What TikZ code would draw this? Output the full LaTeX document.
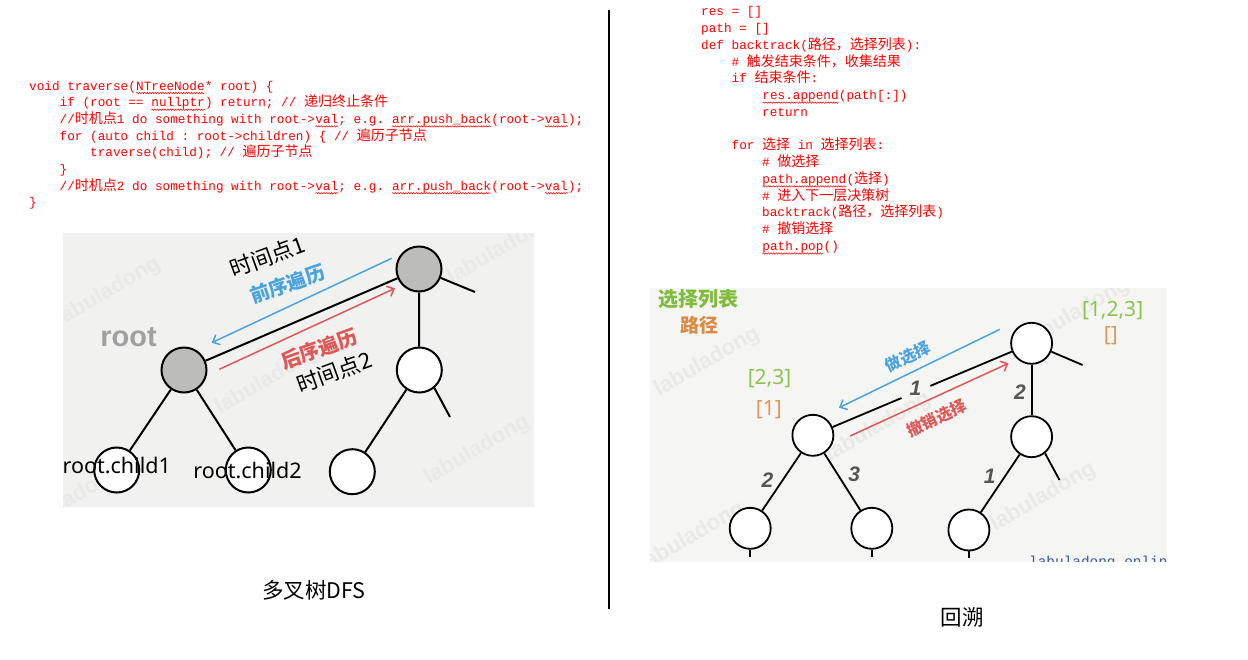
\documentclass[tikz,border=0pt]{standalone}
\usepackage{fontspec}
\setmainfont{Noto Sans}
\newfontfamily\cjk{Noto Sans CJK SC}
\newfontfamily\mono{Liberation Mono}
\newfontfamily\lsans{Liberation Sans}
\usetikzlibrary{arrows.meta,calc,decorations.pathmorphing}
\definecolor{codered}{RGB}{255,0,0}
\definecolor{ablue}{RGB}{74,163,223}
\definecolor{ared}{RGB}{222,88,88}
\definecolor{lgreen}{RGB}{139,196,74}
\definecolor{lorange}{RGB}{222,150,90}
\definecolor{hgreen}{RGB}{128,188,60}
\definecolor{horange}{RGB}{218,140,70}
\definecolor{nodegray}{RGB}{188,188,184}
\definecolor{bgL}{RGB}{241,241,239}
\definecolor{bgR}{RGB}{245,245,243}
\definecolor{lblgray}{RGB}{85,85,85}
\definecolor{rootgray}{RGB}{160,160,160}
\definecolor{wmgray}{RGB}{233,233,231}
\definecolor{urlblue}{RGB}{60,90,150}
\newcommand\zh[1]{{\cjk\fontsize{14}{15}\selectfont #1}}
\newcommand\uw[1]{\tikz[baseline=(uwt.base), x=1pt, y=1pt]{\node[inner sep=0pt, outer sep=0pt, anchor=base, text=codered] (uwt) {#1};
  \draw[codered, line width=0.5pt, decorate, decoration={snake, amplitude=0.7pt, segment length=2.6pt}] ([yshift=-3pt]uwt.base west) -- ([yshift=-3pt]uwt.base east);}}
\begin{document}
\begin{tikzpicture}[x=1pt,y=-1pt,
  codeline/.style={anchor=base west, inner sep=0pt, text=codered,
    font=\mono\fontsize{12.7}{15}\selectfont\frenchspacing},
  tng/.style={circle, draw=black, line width=2pt, fill=nodegray, minimum size=45pt, inner sep=0pt},
  tnw/.style={circle, draw=black, line width=2pt, fill=white, minimum size=45pt, inner sep=0pt},
  tnr/.style={circle, draw=black, line width=1.8pt, fill=white, minimum size=41pt, inner sep=0pt},
  edge/.style={line width=2pt, black},
  redge/.style={line width=1.8pt, black},
  barrow/.style={line width=1.5pt, ablue, -{Straight Barb[length=6pt,width=11pt]}},
  rarrow/.style={line width=1.5pt, ared, -{Straight Barb[length=6pt,width=11pt]}},
  wm/.style={font=\lsans\bfseries\fontsize{22}{22}\selectfont, text=wmgray, rotate=30},
  elabel/.style={font=\lsans\bfseries\itshape\fontsize{21}{21}\selectfont, text=lblgray},
]
\useasboundingbox (0,0) rectangle (1248,659);
\fill[white] (0,0) rectangle (1248,659);

% ---------- left code ----------
\node[codeline] (c1) at (29,90) {void traverse(\uw{NTreeNode}* root) \{};
\node[codeline] (c2) at (59.5,106.7) {if (root == \uw{nullptr}) return; // \zh{递归终止条件}};
\node[codeline] (c3) at (59.5,123.4) {//\zh{时机点}1 do something with root->\uw{val}; e.g. \uw{arr.push\_back}(root->\uw{val});};
\node[codeline] (c4) at (59.5,140.1) {for (auto child : root->children) \{ // \zh{遍历子节点}};
\node[codeline] (c5) at (90,156.8) {traverse(child); // \zh{遍历子节点}};
\node[codeline] (c6) at (59.5,173.5) {\}};
\node[codeline] (c7) at (59.5,190.2) {//\zh{时机点}2 do something with root->\uw{val}; e.g. \uw{arr.push\_back}(root->\uw{val});};
\node[codeline] (c8) at (29,206.9) {\}};

% ---------- right code ----------
\node[codeline] (r1) at (701,15.7) {res = []};
\node[codeline] (r2) at (701,32.5) {path = []};
\node[codeline] (r3) at (701,49.2) {def backtrack(\zh{路径，选择列表}):};
\node[codeline] (r4) at (731.5,66) {\# \zh{触发结束条件，收集结果}};
\node[codeline] (r5) at (731.5,82.8) {if \zh{结束条件}:};
\node[codeline] (r6) at (762,99.6) {\uw{res.append}(path[:])};
\node[codeline] (r7) at (762,116.3) {return};
\node[codeline] (r8) at (731.5,149.9) {for \zh{选择} in \zh{选择列表}:};
\node[codeline] (r9) at (762,166.6) {\# \zh{做选择}};
\node[codeline] (r10) at (762,183.4) {\uw{path.append}(\zh{选择})};
\node[codeline] (r11) at (762,200.2) {\# \zh{进入下一层决策树}};
\node[codeline] (r12) at (762,216.9) {backtrack(\zh{路径，选择列表})};
\node[codeline] (r13) at (762,233.7) {\# \zh{撤销选择}};
\node[codeline] (r14) at (762,250.5) {\uw{path.pop}()};

% ---------- divider ----------
\coordinate (dtop) at (609,10);
\coordinate (dbot) at (609,609);
\draw[line width=2pt] (dtop) -- (dbot);

% ---------- left picture ----------
\fill[bgL] (63,233) rectangle (534,507);
\begin{scope}
\clip (63,233) rectangle (534,507);
\node[wm] (wl1) at (108,292) {labuladong};
\node[wm] (wl2) at (268,380) {labuladong};
\node[wm] (wl3) at (477,450) {labuladong};
\node[wm] (wl4) at (500,250) {labuladong};
\node[wm] (wl5) at (70,500) {labuladong};
\end{scope}
\node[font=\lsans\bfseries\fontsize{29}{29}\selectfont, text=rootgray] (rootlbl) at (128.5,337) {root};

\node[tng] (lroot) at (184,370) {};
\node[tng] (ltop) at (419,269) {};
\node[tnw] (lrc) at (419.3,370) {};
\node[tnw] (lc1) at (116.7,470) {};
\node[tnw] (lc2) at (248.3,470) {};
\node[tnw] (lrcc) at (352.3,471.7) {};
\coordinate (ltopstub) at (475,292);
\coordinate (lrcstub) at (450,417);
\draw[edge] (lroot) -- (ltop);
\draw[edge] (ltop) -- (lrc);
\draw[edge] (ltop) -- (ltopstub);
\draw[edge] (lrc.-50) -- (lrcstub);
\draw[edge] (lroot) -- (lc1);
\draw[edge] (lroot) -- (lc2);
\draw[edge] (lrc) -- (lrcc);

\coordinate (lba) at (391.7,258.3);
\coordinate (lbb) at (211.7,342.7);
\coordinate (lra) at (219.3,369.3);
\coordinate (lrb) at (395,288.3);
\draw[barrow] (lba) -- (lbb);
\draw[rarrow] (lra) -- (lrb);

\node[rotate=20, font=\cjk\fontsize{22}{22}\selectfont] (t1) at (267.3,256.7) {时间点1};
\node[rotate=19, font=\cjk\bfseries\fontsize{19.5}{20}\selectfont, text=ablue] (pre) at (287.5,284) {前序遍历};
\node[rotate=20, font=\cjk\bfseries\fontsize{20}{20}\selectfont, text=ared] (post) at (319,349) {后序遍历};
\node[rotate=20, font=\cjk\fontsize{22}{22}\selectfont] (t2) at (334,372) {时间点2};
\node[font=\fontsize{21.5}{22}\selectfont] (rc1) at (116.7,465) {root.child1};
\node[font=\fontsize{21.5}{22}\selectfont] (rc2) at (247.5,470) {root.child2};

% ---------- right picture ----------
\fill[bgR] (650,288) rectangle (1167,561.7);
\begin{scope}
\clip (650,288) rectangle (1167,561.7);
\node[wm] (wr1) at (707,362) {labuladong};
\node[wm] (wr2) at (1077,313) {labuladong};
\node[wm] (wr3) at (878,427) {labuladong};
\node[wm] (wr4) at (1043,497) {labuladong};
\node[wm] (wr5) at (692,537) {labuladong};
\node[anchor=base west, inner sep=0pt, font=\mono\fontsize{14.4}{15}\selectfont, text=urlblue] (url) at (1029,566) {labuladong.online};
\end{scope}

\node[font=\cjk\bfseries\fontsize{20}{20}\selectfont, text=hgreen] (hl1) at (698.5,299.3) {选择列表};
\node[font=\cjk\bfseries\fontsize{19}{19}\selectfont, text=horange] (hl2) at (699.2,325) {路径};

\node[tnr] (rtop) at (1031.6,343.3) {};
\node[tnr] (rl) at (812.9,435.3) {};
\node[tnr] (rr) at (1031.6,436.7) {};
\node[tnr] (rll) at (750.2,528.3) {};
\node[tnr] (rlr) at (871.8,528.3) {};
\node[tnr] (rrl) at (968.9,530) {};
\coordinate (rtopstub) at (1082.6,365);
\coordinate (rrstub) at (1059.5,480);
\coordinate (s1) at (750.2,557);
\coordinate (s2) at (871.8,557);
\coordinate (s3) at (968.9,558);
\draw[redge] (rl) -- ($(rl)!0.405!(rtop)$);
\draw[redge] ($(rl)!0.537!(rtop)$) -- (rtop);
\draw[redge] (rtop) -- (rr);
\draw[redge] (rtop) -- (rtopstub);
\draw[redge] (rr.-51) -- (rrstub);
\draw[redge] (rl) -- (rll);
\draw[redge] (rl) -- (rlr);
\draw[redge] (rr) -- (rrl);
\draw[line width=1.5pt] (rll) -- (s1);
\draw[line width=1.5pt] (rlr) -- (s2);
\draw[line width=1.5pt] (rrl) -- (s3);

\node[elabel] (e1) at (915.5,388.3) {1};
\node[elabel] (e2) at (1019.9,391.7) {2};
\node[elabel] (e3) at (767.4,480) {2};
\node[elabel] (e4) at (854.2,474) {3};
\node[elabel] (e5) at (989.6,476.7) {1};

\coordinate (rba) at (999.9,329.3);
\coordinate (rbb) at (839,407.7);
\coordinate (rra) at (850.1,436);
\coordinate (rrb) at (1008.5,363.3);
\draw[barrow] (rba) -- (rbb);
\draw[rarrow] (rra) -- (rrb);
\node[rotate=25, font=\cjk\bfseries\fontsize{16}{16}\selectfont, text=ablue] (mk) at (908,356.7) {做选择};
\node[rotate=25, font=\cjk\bfseries\fontsize{16}{16}\selectfont, text=ared] (un) at (936.9,418.3) {撤销选择};

\node[font=\fontsize{21}{21}\selectfont, text=lgreen] (ch1) at (1112.6,310.7) {[1,2,3]};
\node[font=\fontsize{21}{21}\selectfont, text=lorange] (pa1) at (1110.8,336) {[]};
\node[font=\fontsize{21}{21}\selectfont, text=lgreen] (ch2) at (769.5,379) {[2,3]};
\node[font=\fontsize{21}{21}\selectfont, text=lorange] (pa2) at (768.8,410) {[1]};

% ---------- captions ----------
\node[font=\cjk\fontsize{21.5}{22}\selectfont] (cap1) at (314,590) {多叉树DFS};
\node[font=\cjk\fontsize{21.5}{22}\selectfont] (cap2) at (962,617) {回溯};
\end{tikzpicture}
\end{document}
